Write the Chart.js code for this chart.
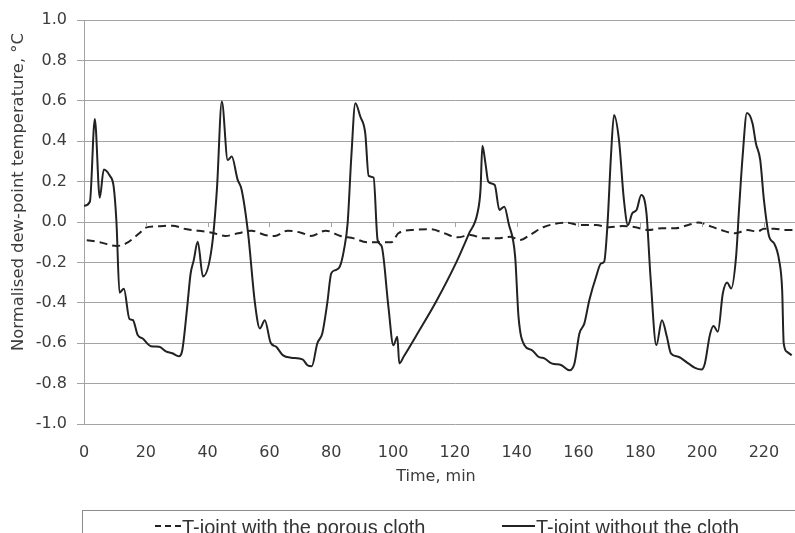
<!doctype html>
<html lang="en">
<head>
<meta charset="utf-8">
<title>Normalised dew-point temperature</title>
<script src="https://cdn.jsdelivr.net/npm/chart.js@4.4.0/dist/chart.umd.min.js"></script>
<style>
  html, body { margin: 0; padding: 0; background: #fff; }
  body { width: 795px; height: 533px; overflow: hidden; position: relative; }
  .chart-wrap { position: absolute; left: 0; top: 0; width: 860px; height: 533px; }
</style>
</head>
<body>
<div class="chart-wrap"><canvas id="dew"></canvas></div>
<script>
'use strict';

// Time (min) and normalised dew-point temperature.
const timeWithout = [
  0, 1.9, 3.5, 5.1, 6.4, 8.3, 9.6, 10.5, 11.5, 12.9, 14.7, 15.8, 17.4, 19, 21.7, 24.3,
  26.5, 28.6, 30.7, 31.8, 33.4, 34.5, 35.5, 36.8, 38.5, 41.4, 43, 44.6, 46.5, 47.8,
  49.7, 51, 53.1, 55.3, 56.9, 58.5, 60.4, 62.2, 64.3, 67, 70.7, 72.3, 73.7, 75.5, 77.1,
  78.7, 80, 81.4, 82.8, 84.1, 85.3, 86.5, 87.8, 89.4, 91, 92.1, 93.7, 95, 96.3, 98.5,
  100.1, 101.4, 102, 103.5, 108, 113.9, 120.3, 124.6, 127.3, 128.3, 128.9, 129.9, 130.8, 132.9,
  134.4, 136, 137.4, 139.5, 140.6, 142.5, 144.9, 147, 149.1, 151.3, 154.5, 157.1,
  158.7, 160.3, 161.9, 163.5, 165.7, 167.3, 168.3, 169.4, 170.5, 171.5, 173.1, 174.7,
  176, 177.4, 178.8, 180.3, 182, 183.3, 185.2, 187, 188.6, 189.9, 192.3, 195.5, 197.7,
  199.8, 200.9, 202.5, 203.7, 205.1, 206.7, 208.1, 209.4, 211, 212, 213.1, 214.5,
  216.3, 217.4, 218.8, 220, 221.7, 223.3, 224.9, 225.9, 226.4, 227.5, 229
];
const tempWithout = [
  0.08, 0.10, 0.51, 0.12, 0.26, 0.23, 0.175, 0.0, -0.35, -0.33, -0.48, -0.485, -0.56, -0.577, -0.615, -0.618,
  -0.64, -0.65, -0.665, -0.635, -0.42, -0.255, -0.19, -0.098, -0.27, -0.12, 0.16, 0.596, 0.307, 0.324,
  0.21, 0.16, -0.056, -0.40, -0.527, -0.486, -0.598, -0.618, -0.659, -0.672, -0.68, -0.709, -0.714, -0.60, -0.552,
  -0.403, -0.254, -0.238, -0.22, -0.139, -0.007, 0.324, 0.588, 0.522, 0.44, 0.228, 0.22, -0.089, -0.12, -0.42,
  -0.61, -0.568, -0.70, -0.665, -0.55, -0.395, -0.205, -0.056, 0.043, 0.16, 0.377, 0.29, 0.20, 0.183,
  0.06, 0.076, -0.007, -0.17, -0.47, -0.61, -0.634, -0.667, -0.676, -0.70, -0.709, -0.734,
  -0.70, -0.552, -0.502, -0.387, -0.271, -0.205, -0.197, -0.007, 0.324, 0.53, 0.406, 0.109,
  -0.015, 0.043, 0.06, 0.134, 0.043, -0.271, -0.61, -0.486, -0.568, -0.65, -0.667, -0.70, -0.722,
  -0.73, -0.70, -0.56, -0.515, -0.543, -0.354, -0.30, -0.329, -0.17, 0.076, 0.324, 0.539,
  0.489, 0.39, 0.307, 0.109, -0.073, -0.106, -0.188, -0.337, -0.60, -0.643, -0.66
];

const timeCloth = [
  0.9, 5.1, 10.5, 13.7, 17.9, 20, 23.3, 28.6, 32.9, 37.1, 41.4, 45.7, 49.9, 54.2, 58.5,
  61.7, 65.9, 70.2, 73.4, 78.2, 83, 87.3, 91.5, 95.8, 99.5, 101.7, 105.9, 112.3, 116.6,
  120.9, 125.1, 129.4, 133.7, 137.9, 141.1, 144.3, 148.6, 156.1, 160.3, 165.7, 169.9,
  174.2, 178.5, 182.7, 187, 191.3, 195.5, 198.7, 203, 206.2, 210.5, 214.7, 217.9, 220,
  223.3, 227.5, 230
];
const tempCloth = [
  -0.09, -0.10, -0.119, -0.105, -0.056, -0.028, -0.022, -0.018, -0.035, -0.043, -0.053, -0.069, -0.056, -0.043, -0.064,
  -0.069, -0.043, -0.053, -0.069, -0.043, -0.069, -0.081, -0.10, -0.10, -0.10, -0.056, -0.040, -0.036, -0.056,
  -0.076, -0.064, -0.081, -0.081, -0.073, -0.089, -0.064, -0.026, -0.003, -0.015, -0.015, -0.026,
  -0.02, -0.026, -0.040, -0.031, -0.031, -0.015, -0.003, -0.023, -0.040, -0.056, -0.040, -0.048, -0.033,
  -0.033, -0.040, -0.040
];

const xTicks = [0, 20, 40, 60, 80, 100, 120, 140, 160, 180, 200, 220];
const yLabel = 'Normalised dew-point temperature, \u00B0C';
const xLabel = 'Time, min';
const legendLabels = ['T-joint with the porous cloth', 'T-joint without the cloth'];

const INK = '#3c3c3c';
const GRID = '#a3a3a3';

function points(xs, ys) {
  return xs.map((x, i) => ({ x, y: ys[i] }));
}

// Axis titles, the small ticks on the zero line, and the boxed legend.
const decorations = {
  id: 'decorations',
  afterDraw(chart) {
    const ctx = chart.ctx;
    const xs = chart.scales.x;
    const ys = chart.scales.y;
    const y0 = ys.getPixelForValue(0);

    ctx.save();
    ctx.strokeStyle = GRID;
    ctx.lineWidth = 1;
    xTicks.forEach(t => {
      if (t === 0) return;
      const px = Math.round(xs.getPixelForValue(t)) + 0.5;
      ctx.beginPath();
      ctx.moveTo(px, y0);
      ctx.lineTo(px, y0 + 5);
      ctx.stroke();
    });

    ctx.fillStyle = INK;
    ctx.font = '16px "DejaVu Sans"';
    ctx.textAlign = 'center';
    ctx.textBaseline = 'middle';
    ctx.fillText(xLabel, 436, 477);

    ctx.save();
    ctx.translate(19, 192);
    ctx.rotate(-Math.PI / 2);
    ctx.font = '16.4px "DejaVu Sans"';
    ctx.fillText(yLabel, 0, 0);
    ctx.restore();

    // legend box (its right and bottom edges fall outside the picture)
    ctx.strokeStyle = '#8c8c8c';
    ctx.strokeRect(82.5, 510.5, 900, 100);

    ctx.strokeStyle = '#222';
    ctx.lineWidth = 2;
    ctx.setLineDash([6, 4]);
    ctx.beginPath();
    ctx.moveTo(155, 526);
    ctx.lineTo(181, 526);
    ctx.stroke();
    ctx.setLineDash([]);
    ctx.beginPath();
    ctx.moveTo(502, 526);
    ctx.lineTo(535, 526);
    ctx.stroke();

    ctx.fillStyle = '#333';
    ctx.font = '20px "Liberation Sans"';
    ctx.textAlign = 'left';
    ctx.textBaseline = 'alphabetic';
    ctx.fillText(legendLabels[0], 182, 534, 245);
    ctx.fillText(legendLabels[1], 536, 534, 203);
    ctx.restore();
  }
};

Chart.defaults.font.family = '"DejaVu Sans", Verdana, sans-serif';
Chart.defaults.font.size = 16;
Chart.defaults.color = INK;

new Chart(document.getElementById('dew'), {
  type: 'line',
  data: {
    datasets: [
      {
        label: legendLabels[0],
        data: points(timeCloth, tempCloth),
        borderColor: '#222',
        borderWidth: 2,
        borderDash: [8, 5],
        pointRadius: 0,
        cubicInterpolationMode: 'monotone',
        fill: false,
      },
      {
        label: legendLabels[1],
        data: points(timeWithout, tempWithout),
        borderColor: '#222',
        borderWidth: 2,
        pointRadius: 0,
        cubicInterpolationMode: 'monotone',
        fill: false,
      },
    ]
  },
  options: {
    responsive: true,
    maintainAspectRatio: false,
    animation: false,
    layout: { padding: { top: 20, right: 26, left: 0, bottom: 0 } },
    plugins: {
      legend: { display: false },
      tooltip: { enabled: false },
    },
    scales: {
      x: {
        type: 'linear',
        min: 0,
        max: 240,
        afterFit: s => { s.height = 109; },
        grid: { display: false, drawTicks: false },
        border: { display: false },
        ticks: { stepSize: 20, padding: 19, maxRotation: 0, autoSkip: false },
      },
      y: {
        min: -1,
        max: 1,
        afterFit: s => { s.width = 84; },
        grid: { color: GRID, lineWidth: 1, tickLength: 7 },
        border: { display: true, color: GRID, width: 1 },
        ticks: {
          stepSize: 0.2,
          padding: 10,
          callback: v => (Math.abs(v) < 1e-9 ? 0 : v).toFixed(1),
        },
      },
    },
  },
  plugins: [decorations],
});
</script>
</body>
</html>
